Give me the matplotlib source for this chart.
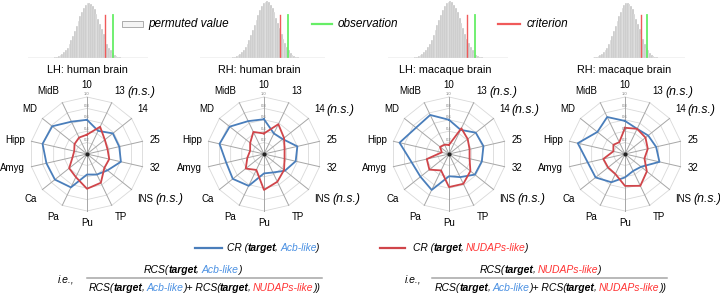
import numpy as np
import matplotlib
matplotlib.use("Agg")
import matplotlib.pyplot as plt
from matplotlib.patches import Rectangle
from matplotlib.font_manager import FontProperties

plt.rcParams['font.family'] = ['Liberation Sans', 'DejaVu Sans']

W, H = 720, 294

# radar categories (clockwise from top)
categories = ['10', '13', '14', '25', '32', 'INS', 'TP', 'Pu', 'Pa', 'Ca', 'Amyg', 'Hipp', 'MD', 'MidB']

# CR values
lh_human_acb = [0.60, 0.45, 0.58, 0.58, 0.61, 0.46, 0.40, 0.36, 0.65, 0.72, 0.73, 0.80, 0.78, 0.63]
lh_human_nud = [0.34, 0.53, 0.40, 0.37, 0.40, 0.39, 0.56, 0.61, 0.45, 0.40, 0.26, 0.23, 0.28, 0.32]
rh_human_acb = [0.61, 0.40, 0.42, 0.60, 0.57, 0.47, 0.36, 0.34, 0.62, 0.70, 0.68, 0.80, 0.77, 0.64]
rh_human_nud = [0.36, 0.58, 0.45, 0.37, 0.37, 0.45, 0.54, 0.63, 0.31, 0.41, 0.30, 0.25, 0.31, 0.43]
lh_mac_acb = [0.60, 0.47, 0.60, 0.62, 0.59, 0.58, 0.45, 0.39, 0.70, 0.64, 0.67, 0.89, 0.74, 0.76]
lh_mac_nud = [0.16, 0.50, 0.42, 0.37, 0.37, 0.48, 0.58, 0.58, 0.32, 0.44, 0.40, 0.13, 0.20, 0.18]
rh_mac_acb = [0.58, 0.49, 0.52, 0.56, 0.62, 0.36, 0.33, 0.41, 0.55, 0.66, 0.67, 0.85, 0.62, 0.72]
rh_mac_nud = [0.46, 0.49, 0.46, 0.41, 0.35, 0.49, 0.62, 0.56, 0.39, 0.38, 0.39, 0.21, 0.26, 0.23]

# which categories are marked (n.s.)
ns_lists = [['13', 'INS'], ['14', 'INS'], ['13', '14', 'INS'], ['13', '14', 'INS']]

titles = ['LH: human brain', 'RH: human brain', 'LH: macaque brain', 'RH: macaque brain']

# permutation histogram (relative bin counts)
perm_counts = [0.01, 0.02, 0.03, 0.05, 0.07, 0.10, 0.14, 0.19, 0.25, 0.32, 0.40, 0.49,
               0.58, 0.67, 0.76, 0.84, 0.91, 0.96, 0.99, 1.00, 0.98, 0.94, 0.88, 0.80,
               0.71, 0.62, 0.52, 0.43, 0.34, 0.26, 0.19, 0.14, 0.09, 0.06, 0.04, 0.02, 0.01]
# criterion / observation positions in bin units
criterion = [27.7, 26.0, 28.0, 26.7]
observation = [32.0, 30.5, 32.0, 30.2]

BLUE = '#4a7ebb'
RED = '#d0454a'
LBLUE = '#4a90e2'
LRED = '#ff3333'
GREEN = '#66ee66'
CRIT = '#f05a5a'

fig = plt.figure(figsize=(W / 100, H / 100), dpi=100)


def px_axes(x0, y0, x1, y1):
    # rect from pixel box (top-left origin)
    return fig.add_axes([x0 / W, 1 - y1 / H, (x1 - x0) / W, (y1 - y0) / H])


# ---------- histograms ----------
hist_boxes = [(28, 148, 0, 58), (200, 325, 0, 58), (388, 508, 0, 58), (593, 685, 0, 58)]
hist_xlim = [(-15, 51.5), (-18.3, 51), (-14.5, 50), (-1.2, 52.3)]
hist_peak = [1.0, 1.03, 1.03, 1.0]
title_x = [87, 259, 445, 624]

for i in range(4):
    x0, x1, y0, y1 = hist_boxes[i]
    ax = px_axes(x0, y0, x1, y1)
    idx = np.arange(len(perm_counts))
    ax.bar(idx, np.array(perm_counts) * hist_peak[i], width=1.0, color='#c4c4c4',
           edgecolor='white', linewidth=0.25)
    ax.plot([criterion[i]] * 2, [0, 0.77], color=CRIT, lw=1.0)
    ax.plot([observation[i]] * 2, [0, 0.77], color=GREEN, lw=1.3)
    ax.set_xlim(*hist_xlim[i])
    ax.set_ylim(0, 1.05)
    ax.axhline(0, color='#bfbfbf', lw=1.0)
    ax.axis('off')
    fig.text(title_x[i] / W, 1 - 70 / H, titles[i], ha='center', va='center', fontsize=7.8)

# top legend
fig.patches.append(Rectangle((122 / W, 1 - 27 / H), 21 / W, 6 / H, transform=fig.transFigure,
                             facecolor='#f4f4f4', edgecolor='#a0a0a0', lw=0.6))
fig.text(148 / W, 1 - 24 / H, 'permuted value', style='italic', fontsize=8.5, va='center')
fig.add_artist(plt.Line2D([312 / W, 332 / W], [1 - 24 / H] * 2, color=GREEN, lw=1.6))
fig.text(338 / W, 1 - 24 / H, 'observation', style='italic', fontsize=8.5, va='center')
fig.add_artist(plt.Line2D([498 / W, 520 / W], [1 - 24 / H] * 2, color=CRIT, lw=1.6))
fig.text(527 / W, 1 - 24 / H, 'criterion', style='italic', fontsize=8.5, va='center')

# ---------- radar charts (drawn on plain axes, straight edges like Excel) ----------
acb_sets = [lh_human_acb, rh_human_acb, lh_mac_acb, rh_mac_acb]
nud_sets = [lh_human_nud, rh_human_nud, lh_mac_nud, rh_mac_nud]
centers = [(87, 154), (264, 154), (449, 154), (625, 154)]
R = 57

n = len(categories)
ang = np.arange(n) * 2 * np.pi / n
ang_c = np.append(ang, ang[0])
sx, cy_ = np.sin(ang_c), np.cos(ang_c)

for i in range(4):
    cx, cy = centers[i]
    ax = px_axes(cx - R, cy - R, cx + R, cy + R)
    ax.set_xlim(-1, 1)
    ax.set_ylim(-1, 1)
    ax.axis('off')

    for r in [0.2, 0.4, 0.6, 0.8, 1.0]:
        ax.plot(r * sx, r * cy_, color='#d9d9d9', lw=0.6, zorder=1, clip_on=False)
        ax.text(0, r + 0.01, f'{r:.1f}', fontsize=3, color='#7f7f7f', ha='center', va='bottom', zorder=4)
    for a in ang:
        ax.plot([0, np.sin(a)], [0, np.cos(a)], color='#a6a6a6', lw=0.7, zorder=1, clip_on=False)

    acb = np.append(acb_sets[i], acb_sets[i][0])
    nud = np.append(nud_sets[i], nud_sets[i][0])
    ax.plot(acb * sx, acb * cy_, color=BLUE, lw=1.3, zorder=3, clip_on=False)
    ax.plot(nud * sx, nud * cy_, color=RED, lw=1.3, zorder=3, clip_on=False)
    ax.plot([0], [0], 'o', color='#222222', ms=2, zorder=5)

    for a, lab in zip(ang, categories):
        s, c = np.sin(a), np.cos(a)
        ha = 'left' if s > 0.2 else ('right' if s < -0.2 else 'center')
        va = 'bottom' if c > 0.5 else ('top' if c < -0.5 else 'center')
        t = ax.text(1.12 * s, 1.12 * c, lab, fontsize=7, ha=ha, va=va, clip_on=False)
        if lab in ns_lists[i]:
            ax.annotate('(n.s.)', xy=(1, 0.45), xycoords=t, xytext=(1.5, 0),
                        textcoords='offset points', fontsize=8.8, style='italic',
                        ha='left', va='center', annotation_clip=False)

# ---------- bottom legend and formulas ----------
renderer = fig.canvas.get_renderer()


def adv(s, size, w):
    # advance width of s in px (sentinels keep side bearings / spaces), small tightening
    fp = FontProperties(family='Liberation Sans', style='italic', weight=w, size=size)
    a = renderer.get_text_width_height_descent('x' + s + 'x', fp, ismath=False)[0]
    b = renderer.get_text_width_height_descent('xx', fp, ismath=False)[0]
    return a - b - 0.7


def multi_text(x_px, y_px, pieces, size, center=False):
    total = sum(adv(s, size, w) for s, col, w in pieces)
    x = x_px - total / 2 if center else x_px
    for s, col, w in pieces:
        fig.text(x / W, 1 - y_px / H, s, color=col, fontsize=size, style='italic',
                 weight=w, ha='left', va='baseline')
        x += adv(s, size, w)


K = 'black'
fig.add_artist(plt.Line2D([195 / W, 222 / W], [1 - 248 / H] * 2, color=BLUE, lw=1.6))
multi_text(227, 251, [('CR (', K, 'normal'), ('target', K, 'bold'), (', ', K, 'normal'),
                      ('Acb-like', LBLUE, 'normal'), (')', K, 'normal')], 7.4)
fig.add_artist(plt.Line2D([380 / W, 405 / W], [1 - 248 / H] * 2, color=RED, lw=1.6))
multi_text(413, 251, [('CR (', K, 'normal'), ('target', K, 'bold'), (', ', K, 'normal'),
                      ('NUDAPs-like', LRED, 'normal'), (')', K, 'normal')], 7.4)

denom = [('RCS(', K, 'normal'), ('target', K, 'bold'), (', ', K, 'normal'),
         ('Acb-like', LBLUE, 'normal'), (')+ RCS(', K, 'normal'), ('target', K, 'bold'),
         (', ', K, 'normal'), ('NUDAPs-like', LRED, 'normal'), ('))', K, 'normal')]

# left formula
fig.text(58 / W, 1 - 283 / H, 'i.e.,', style='italic', fontsize=7.5, va='baseline')
multi_text(192, 273, [('RCS(', K, 'normal'), ('target', K, 'bold'), (', ', K, 'normal'),
                      ('Acb-like', LBLUE, 'normal'), (')', K, 'normal')], 7.5, center=True)
fig.add_artist(plt.Line2D([87 / W, 322 / W], [1 - 278 / H] * 2, color='#a6a6a6', lw=1.1))
multi_text(204, 291, denom, 7.5, center=True)

# right formula
fig.text(405 / W, 1 - 283 / H, 'i.e.,', style='italic', fontsize=7.5, va='baseline')
multi_text(540, 273, [('RCS(', K, 'normal'), ('target', K, 'bold'), (', ', K, 'normal'),
                      ('NUDAPs-like', LRED, 'normal'), (')', K, 'normal')], 7.5, center=True)
fig.add_artist(plt.Line2D([432 / W, 667 / W], [1 - 278 / H] * 2, color='#a6a6a6', lw=1.1))
multi_text(550, 291, denom, 7.5, center=True)

fig.savefig('out.png', dpi=100)
